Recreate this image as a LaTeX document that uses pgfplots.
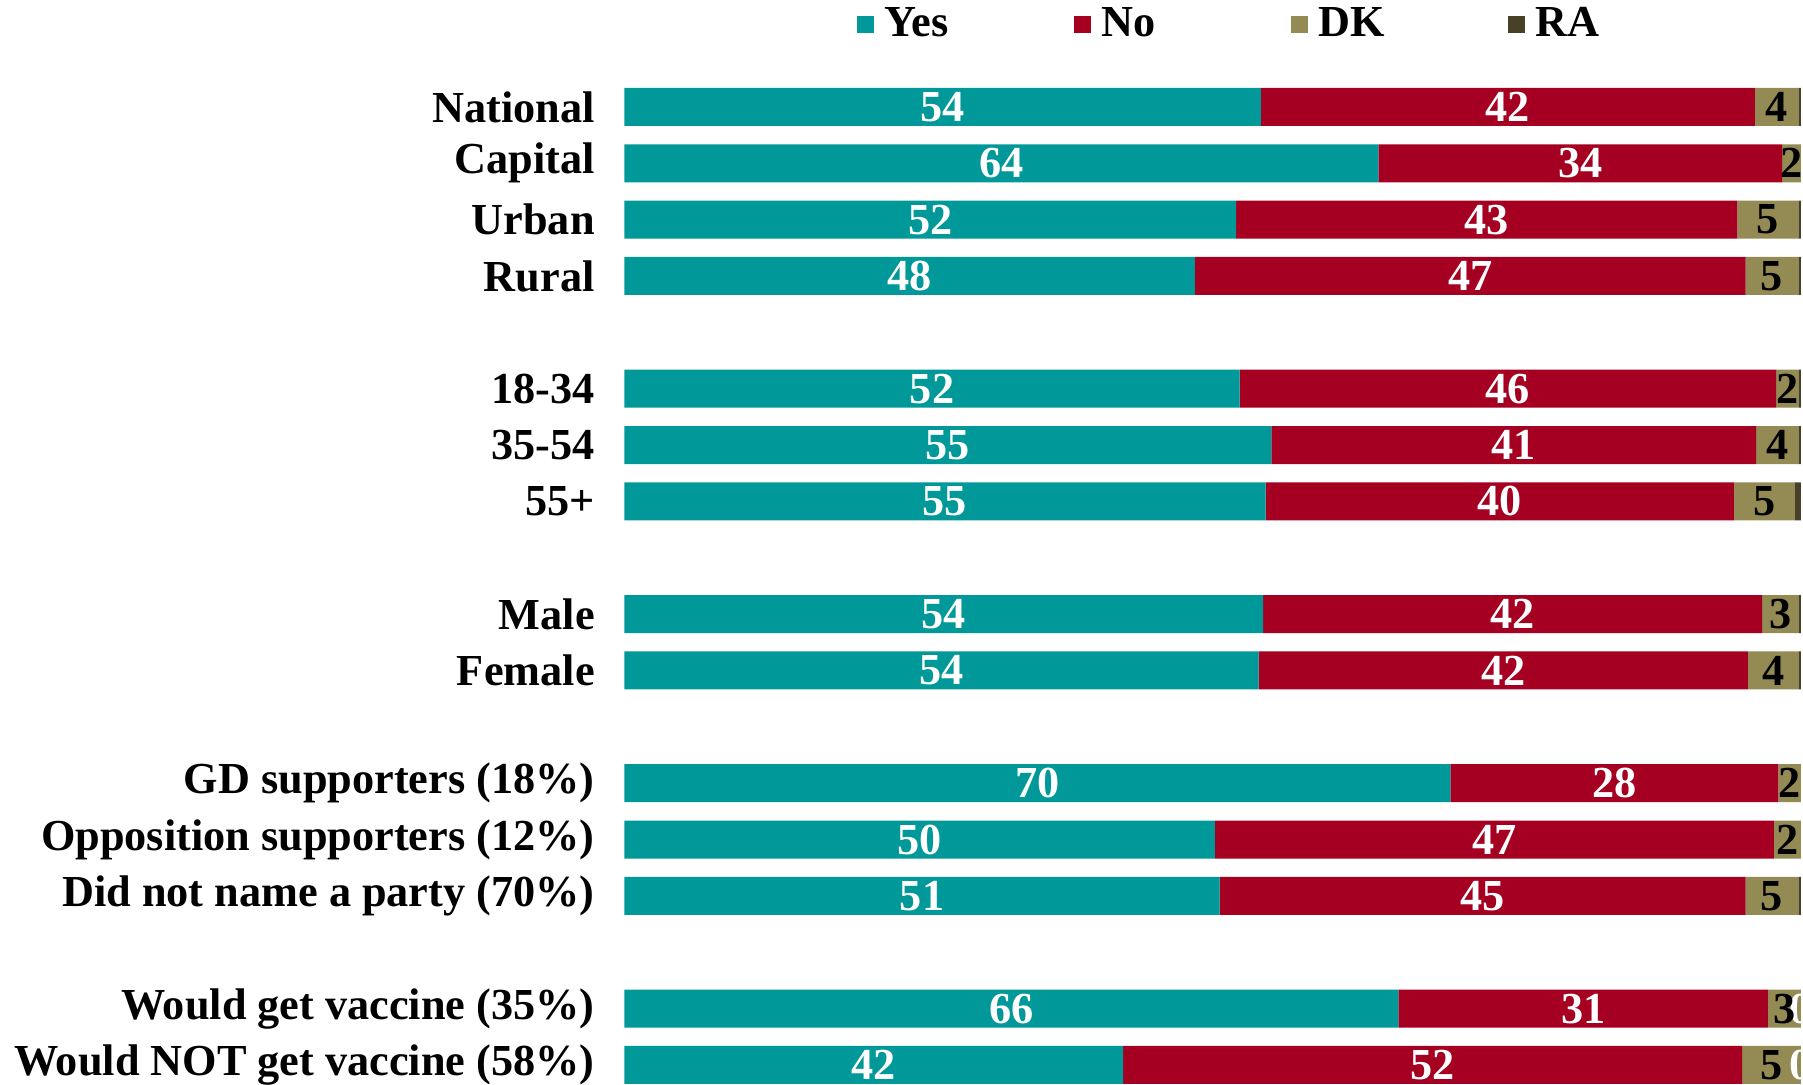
\documentclass[border=0pt]{standalone}
\usepackage{pgfplots}
\pgfplotsset{compat=1.18}
\usepackage{fontspec}
\setmainfont{Liberation Serif}

\definecolor{yescol}{RGB}{0,152,152}
\definecolor{nocol}{RGB}{165,0,33}
\definecolor{dkcol}{RGB}{148,138,84}
\definecolor{racol}{RGB}{73,64,40}

\newcommand{\chartfont}{\bfseries\fontsize{12.6}{15}\selectfont}

\begin{document}
\begin{tikzpicture}
\begin{axis}[
    at={(62.44mm,0mm)}, anchor=north west,
    scale only axis,
    width=117.88mm, height=108.4mm,
    xbar stacked,
    bar width=0.674,
    xmin=0, xmax=100.2,
    ymin=-1.897, ymax=17.339,
    y dir=reverse,
    axis line style={draw=none},
    major tick length=0pt,
    xtick=\empty,
    ytick={0,1,2,3,5,6,7,9,10,12,13,14,16,17},
    yticklabels={National, Capital, Urban, Rural, 18-34, 35-54, 55+, Male, Female,
        GD supporters (18\%), Opposition supporters (12\%), Did not name a party (70\%),
        Would get vaccine (35\%), Would NOT get vaccine (58\%)},
    yticklabel style={anchor=east, inner sep=0pt, xshift=-2.9mm, font=\chartfont},
    point meta=explicit symbolic,
    nodes near coords,
    every node near coord/.append style={font=\chartfont, inner sep=0pt},
    legend image code/.code={\fill[#1] (0mm,-0.85mm) rectangle (1.7mm,0.85mm);},
    legend columns=4,
    legend style={draw=none, fill=none, inner sep=0pt, anchor=west,
        at={(0.197,0.977)}, font=\chartfont,
        nodes={inner sep=0pt, text width=15mm, align=left},
        /tikz/every odd column/.append style={column sep=1mm},
        /tikz/every even column/.append style={column sep=4.0mm}},
]
% Yes
\addplot[fill=yescol, draw=none, every node near coord/.append style={white}] coordinates {
    (54.1,0) [54] (64.1,1) [64] (52.0,2) [52] (48.5,3) [48]
    (52.3,5) [52] (55.0,6) [55] (54.5,7) [55]
    (54.3,9) [54] (53.9,10) [54]
    (70.2,12) [70] (50.2,13) [50] (50.6,14) [51]
    (65.8,16) [66] (42.4,17) [42]
};
% No
\addplot[fill=nocol, draw=none, every node near coord/.append style={white}] coordinates {
    (42.0,0) [42] (34.3,1) [34] (42.6,2) [43] (46.8,3) [47]
    (45.6,5) [46] (41.2,6) [41] (39.8,7) [40]
    (42.4,9) [42] (41.6,10) [42]
    (27.9,12) [28] (47.5,13) [47] (44.7,14) [45]
    (31.4,16) [31] (52.6,17) [52]
};
% DK
\addplot[fill=dkcol, draw=none, every node near coord/.append style={black}] coordinates {
    (3.7,0) [4] (1.6,1) [2] (5.2,2) [5] (4.5,3) [5]
    (1.9,5) [2] (3.6,6) [4] (5.2,7) [5]
    (3.1,9) [3] (4.3,10) [4]
    (1.9,12) [2] (2.3,13) [2] (4.5,14) [5]
    (2.8,16) [3] (5.0,17) [5]
};
% RA
\addplot[fill=racol, draw=none, every node near coord/.append style={white}] coordinates {
    (0.2,0) [] (0,1) [] (0.2,2) [] (0.2,3) []
    (0.2,5) [] (0.2,6) [] (0.5,7) []
    (0.2,9) [] (0.2,10) []
    (0,12) [] (0,13) [] (0.2,14) []
    (0.01,16) [0] (0.01,17) [0]
};
\legend{Yes, No, DK, RA}
\end{axis}
\pgfresetboundingbox
\path[use as bounding box] (0mm,0mm) rectangle (180.3mm,-108.4mm);
\end{tikzpicture}
\end{document}
